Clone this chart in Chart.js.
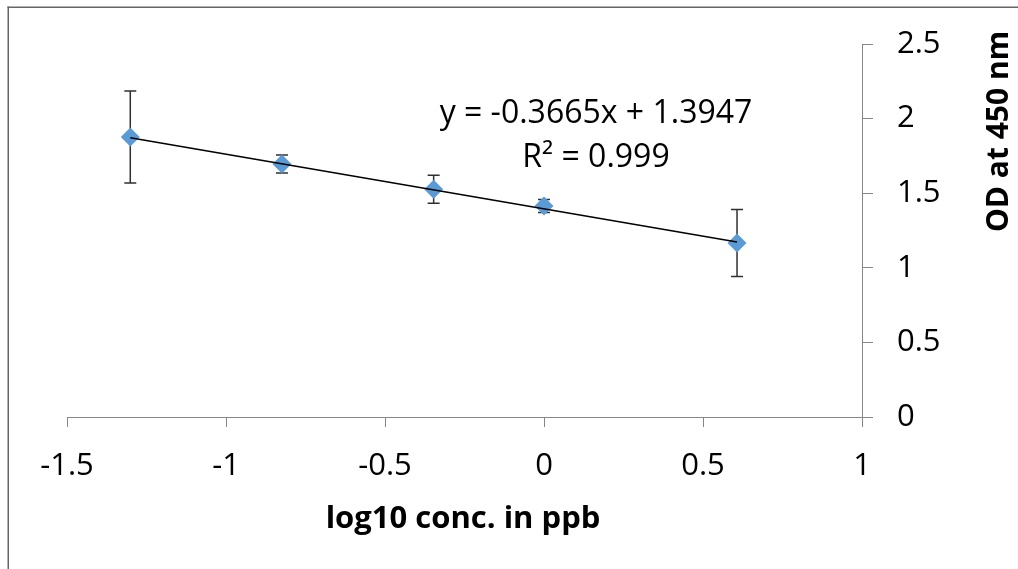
<!DOCTYPE html>
<html>
<head>
<meta charset="utf-8">
<script src="https://cdn.jsdelivr.net/npm/chart.js@4"></script>
<style>
  html, body { margin: 0; padding: 0; background: #ffffff; }
  canvas { display: block; }
</style>
</head>
<body>
<canvas id="c" width="1018" height="569"></canvas>
<script>
// ---- data ----
const xValues = [-1.301, -0.824, -0.347, 0, 0.607];
const odValues = [1.877, 1.696, 1.527, 1.414, 1.166];
const odErrors = [0.308, 0.060, 0.094, 0.044, 0.225];
const trendX = [-1.301, 0.607];
const trendY = [1.8715, 1.1722];
const xTickValues = [-1.5, -1, -0.5, 0, 0.5, 1];
const xTickLabels = ['-1.5', '-1', '-0.5', '0', '0.5', '1'];
const yTickValues = [0, 0.5, 1, 1.5, 2, 2.5];
const yTickLabels = ['0', '0.5', '1', '1.5', '2', '2.5'];
const xTitle = 'log10 conc. in ppb';
const yTitle = 'OD at 450 nm';
const equationLines = ['y = -0.3665x + 1.3947', 'R² = 0.999'];

const FONT = "'Open Sans', sans-serif";
const AXIS_GRAY = '#868686';

const pointsData = xValues.map((x, i) => ({ x: x, y: odValues[i] }));
const trendData = trendX.map((x, i) => ({ x: x, y: trendY[i] }));

const errorBars = {
  id: 'errorBars',
  beforeDatasetsDraw(chart) {
    const ctx = chart.ctx, xs = chart.scales.x, ys = chart.scales.y;
    ctx.save();
    ctx.strokeStyle = '#303030';
    ctx.lineWidth = 1.5;
    xValues.forEach((xv, i) => {
      const px = xs.getPixelForValue(xv);
      const top = ys.getPixelForValue(odValues[i] + odErrors[i]);
      const bot = ys.getPixelForValue(odValues[i] - odErrors[i]);
      ctx.beginPath();
      ctx.moveTo(px, top); ctx.lineTo(px, bot);
      ctx.moveTo(px - 6, top); ctx.lineTo(px + 6, top);
      ctx.moveTo(px - 6, bot); ctx.lineTo(px + 6, bot);
      ctx.stroke();
    });
    ctx.restore();
  }
};

const texts = {
  id: 'texts',
  afterDraw(chart) {
    const ctx = chart.ctx;
    ctx.save();
    // frame
    ctx.fillStyle = '#666666';
    ctx.fillRect(7.5, 6.5, 1018, 1.5);
    ctx.fillRect(7.5, 6.5, 1.5, 569);
    // equation
    ctx.fillStyle = '#000000';
    ctx.textAlign = 'center';
    ctx.textBaseline = 'alphabetic';
    ctx.font = '32px ' + FONT;
    ctx.fillText(equationLines[0], 596, 123);
    ctx.fillText(equationLines[1], 596, 167);
    // x title
    ctx.font = 'bold 31px ' + FONT;
    ctx.fillText(xTitle, 463, 528);
    // y title (rotated)
    ctx.translate(1008, 131.5);
    ctx.rotate(-Math.PI / 2);
    ctx.font = 'bold 30px ' + FONT;
    ctx.fillText(yTitle, 0, 0);
    ctx.restore();
  }
};

new Chart(document.getElementById('c'), {
  type: 'scatter',
  data: {
    datasets: [
      {
        data: trendData,
        showLine: true,
        borderColor: '#000000',
        borderWidth: 1.5,
        pointRadius: 0,
        pointHoverRadius: 0,
        fill: false
      },
      {
        data: pointsData,
        pointStyle: 'rectRot',
        pointRadius: 9.5,
        pointHoverRadius: 9.5,
        backgroundColor: '#5B9BD5',
        borderWidth: 0,
        showLine: false
      }
    ]
  },
  options: {
    responsive: false,
    animation: false,
    devicePixelRatio: 1,
    layout: { padding: { left: 67, top: 44, right: 0, bottom: 0 } },
    plugins: { legend: { display: false }, tooltip: { enabled: false } },
    scales: {
      x: {
        type: 'linear',
        min: -1.5, max: 1,
        afterBuildTicks: (s) => { s.ticks = xTickValues.map(v => ({ value: v })); },
        afterFit: (s) => { s.height = 152; },
        grid: { drawOnChartArea: false, drawTicks: true, tickLength: 10, color: AXIS_GRAY, lineWidth: 1 },
        border: { display: true, color: AXIS_GRAY, width: 1 },
        ticks: {
          callback: (v, i) => xTickLabels[i],
          font: { family: FONT, size: 31 },
          color: '#000000',
          padding: 21,
          maxRotation: 0,
          autoSkip: false
        }
      },
      y: {
        type: 'linear',
        position: 'right',
        min: 0, max: 2.5,
        afterBuildTicks: (s) => { s.ticks = yTickValues.map(v => ({ value: v })); },
        afterFit: (s) => { s.width = 156; },
        grid: { drawOnChartArea: false, drawTicks: true, tickLength: 11, color: AXIS_GRAY, lineWidth: 1 },
        border: { display: true, color: AXIS_GRAY, width: 1 },
        ticks: {
          callback: (v, i) => yTickLabels[i],
          font: { family: FONT, size: 31 },
          color: '#000000',
          padding: 24,
          autoSkip: false
        }
      }
    }
  },
  plugins: [errorBars, texts]
});
</script>
</body>
</html>
